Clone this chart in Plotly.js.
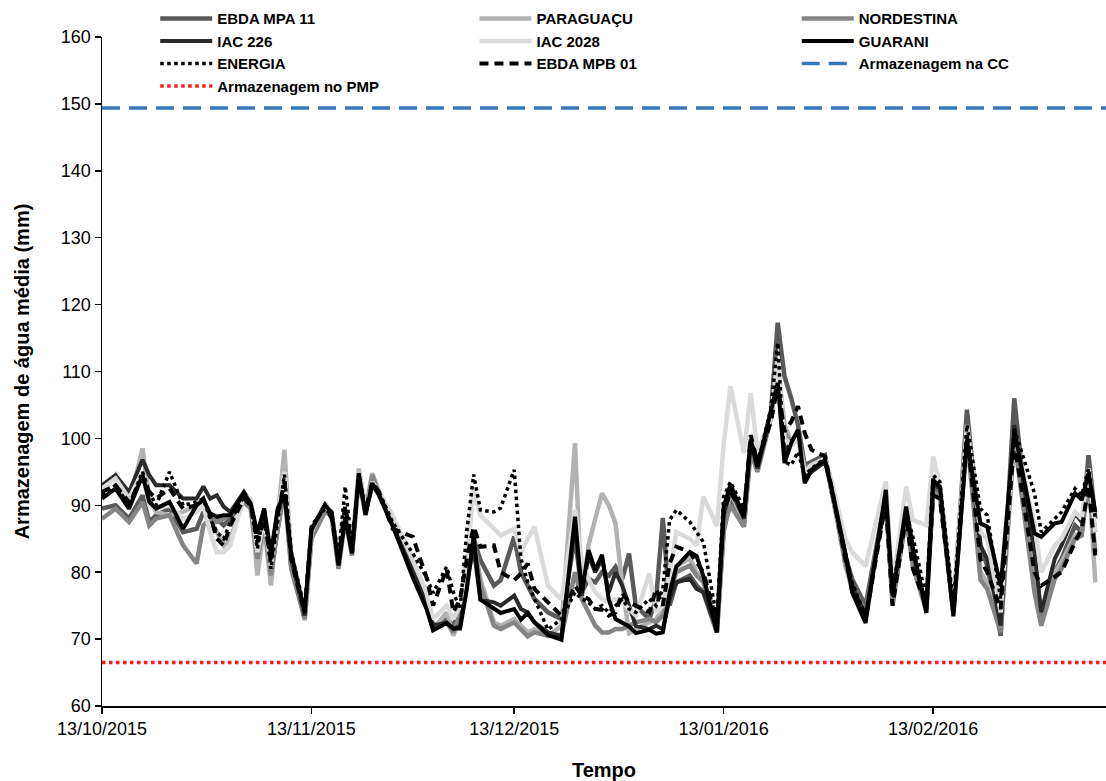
<!DOCTYPE html>
<html>
<head>
<meta charset="utf-8">
<script src="https://cdn.plot.ly/plotly-3.0.1.min.js"></script>
<style>html,body{margin:0;padding:0;background:#fff;}#chart{width:1106px;height:781px;}</style>
</head>
<body>
<div id="chart"></div>
<script>
const dates = ['2015-10-13','2015-10-15','2015-10-17','2015-10-19','2015-10-20','2015-10-21','2015-10-23','2015-10-25','2015-10-27','2015-10-28',
'2015-10-29','2015-10-30','2015-10-31','2015-11-01','2015-11-03','2015-11-04','2015-11-05','2015-11-06','2015-11-07','2015-11-08',
'2015-11-09','2015-11-10','2015-11-12','2015-11-13','2015-11-15','2015-11-16','2015-11-17','2015-11-18','2015-11-19','2015-11-20',
'2015-11-21','2015-11-22','2015-11-23','2015-11-25','2015-11-28','2015-11-30','2015-12-01','2015-12-03','2015-12-04','2015-12-05',
'2015-12-06','2015-12-07','2015-12-08','2015-12-10','2015-12-11','2015-12-13','2015-12-14','2015-12-15','2015-12-16','2015-12-18',
'2015-12-20','2015-12-22','2015-12-23','2015-12-24','2015-12-25','2015-12-26','2015-12-27','2015-12-28','2015-12-29','2015-12-30',
'2015-12-31','2016-01-02','2016-01-03','2016-01-04','2016-01-05','2016-01-06','2016-01-08','2016-01-09','2016-01-10','2016-01-12',
'2016-01-13','2016-01-14','2016-01-16','2016-01-17','2016-01-18','2016-01-20','2016-01-21','2016-01-22','2016-01-23','2016-01-24',
'2016-01-25','2016-01-26','2016-01-28','2016-01-29','2016-01-31','2016-02-01','2016-02-03','2016-02-06','2016-02-07','2016-02-09',
'2016-02-10','2016-02-12','2016-02-13','2016-02-14','2016-02-16','2016-02-18','2016-02-20','2016-02-21','2016-02-23','2016-02-25',
'2016-02-28','2016-02-29','2016-03-02','2016-03-03','2016-03-05','2016-03-06','2016-03-07','2016-03-08'];

const ebdaMpa11 = [89.5,90,88,91.5,87.5,88.5,89.5,86,86.5,89, 87.5,88,87,88,91,90,84,88.5,80,87, 93,81,73.5,86,89.5,88.5,81.5,88.5,83,94.5,
89,93.5,91.5,87.5,80.5,75.5,72,73,72,74.5, 79,85,81.8,78,78.8,85.3,80,78,76,74, 73,85.3,77,79,78.5,80,79.5,80.8,79,82.8,
75,73,76,88.1,75,78.5,79.5,78,77,71, 86,91,87,99,95.5,104,117.3,109.3,106,102, 96,96.5,97.5,92,82.5,79,75,91.5,76,88,
82,75,92.5,92,74,104.3,84,81,70.5,106, 78,73,80,82,87,86,97.5,88];

const paraguacu = [92,94.5,90,98.5,91,89,88.5,89,90,91, 88,86,84,85,91,90.5,79.5,87,78,88, 98.3,82,72.8,85.5,90,88,81,89,83.5,95.5,
89.5,94.8,92,88,81,76,71.5,74,70.5,73.5, 78,84.5,79,72.5,72,73,72,71,71.5,70.5, 72,99.3,76,84,88,91.8,90,87.3,78,70.9,
71.5,72.5,73,74.5,77,81,82,80,79,72, 87,92,87.5,99.5,96,103.5,111,102,99.5,100.5, 95.5,96,97,93,81,77.5,73.5,92,75.5,89,
81,74,93,92.5,73.5,101,80,78.5,72.5,101.5, 79,74,80,81.5,85.5,86,95,78.5];

const nordestina = [88,89.5,87.5,90.5,87,88,88.5,84,81.3,87, 88,87.5,88,88.5,90.5,89.5,82,87.5,79.5,86.5, 92,80.5,73,85,89,88.5,80.5,88,82.5,94,
88.5,94.5,91.5,87,80,75,71.5,72.5,71,73.5, 78.5,84.5,78,72,71.5,72.5,71.5,70.4,71,70.5, 70.5,80,76,74,72,71,71,71.5,71.5,72,
72.5,73,72.5,73.5,76.5,80,81,79.5,78.5,71, 86.5,90,86.8,98,95,103,110,101,99,100, 95.5,96,97,92,81.5,78,74,91,75,88.5,
80.9,74.5,92,91.5,74,100.5,78.9,77.5,71,100, 77,72,79,80.5,85,85.5,94,83];

const iac226 = [93,94.5,92,96.8,94.5,93,93,91,91,92.8, 91,91.5,89.8,89,92,90.5,85,89,82,89, 92,82,73.5,86.5,90,89,81.5,88.5,83,94.5,
88.8,93,91.6,87,80,75.5,72,72.5,71.5,72, 79,83.5,75.9,75.5,75,76.5,74.5,74,72.5,71, 70.5,87.5,76.5,82.5,80,82,77,80,78,75,
72,71.5,72,71.5,76,78.5,79,77.5,77,71.5, 88.5,92.5,88,99.5,95.5,103.5,110,98,99.5,101, 94,95,96.5,92.5,82.5,78,73.5,92,77,89,
83,74.5,93,92.5,74.5,101.5,84,82,72,102, 83,74,82,84,88.8,87.5,95,86];

const iac2028 = [92.5,94,91,95,90,89.5,90,88,89,90, 86,83,83,84,91.5,91,83,88,81,88, 95,83,74,86,90.5,88.5,82,89.5,83.5,95,
89,93.5,92,88.5,82,77,73,75,73,75, 82,92.3,88.5,86.5,85.5,86.5,83,85,86.8,78, 75.9,89.3,82,79,77,76,75.5,76,75.5,74.5,
73.5,79.8,74,75,80,86,85,84,91.3,86.9, 99,107.8,97.8,106.8,98,103,112,100,99,100, 95,96,97,93.5,85,83,80.9,93.6,78,92.8,
87.8,87,97.3,93,75,102,86,85,74,101, 87,80,84,85,89,88,95.5,86];

const guarani = [91,92.5,89.5,94.5,90.5,89.5,90.5,86.5,90,90.8, 88.8,88.3,88.5,88.5,91.8,90.3,85.8,89.5,82.8,89.5, 91.6,82.8,73.9,86.3,90.1,88.8,81,88.3,82.8,94.8,
88.6,93.3,91.6,87,79.2,74.6,71.3,72.4,71.6,71.6, 77.5,85.5,75.9,74.5,73.9,74.5,72.9,73.9,72.5,70.6, 69.9,88.3,76.9,83.3,80.3,82.6,75.9,73,72.5,71.9,
70.9,71.4,70.8,71,76.9,80.8,83,82.4,79.4,71, 89.8,93.1,88.3,99.8,95.8,103.8,108.3,96.3,99.3,101.3, 93.3,95.3,96.8,92.5,82.9,77,72.4,92.3,76.5,89.8,
83.8,73.9,93.8,92.8,73.4,99.8,87.3,86.8,77.9,101.3, 85.8,85.3,87.3,87.5,91.8,90.8,94.8,89];

const energia = [91.5,93,90,95,92,90,95,90,90.5,91, 88,86,85,87.5,91.5,90,83.5,89.5,80.5,88, 94.6,83,74.5,87,89.5,88.5,82.5,92.8,84,94.5,
89.5,93,92,87.5,82.8,79.3,76.9,80.8,77,74.5, 86.3,94.6,89.3,89,89.6,95.3,82,78.5,76,71.4, 73,77,76,75.5,74.5,75,74,75,76,74.5,
74,76,75,77.5,87.8,89.3,87.5,86,84.5,73, 91.3,93.5,89.5,100,96,104.5,114.3,96.5,96,98, 94.5,95.5,97,92,83,78.5,73.5,91,77.5,89,
85.3,76,94.5,93.5,75,102,89.5,88.5,76,101.5, 91.8,86,88,89,92.5,91.5,95.5,88];

const ebdaMpb01 = [92,93,90.5,94,92,91,92.5,89.5,90,91, 88.5,85,84,87,91,90,84.5,88,81.5,88.5, 93.5,82,74,86.5,90,88,82,90,83.5,94,
89,93.5,92,86.5,85.3,79.3,75,80.5,74,76, 82,86.8,83.8,84,80,78.8,79.8,81.3,77.5,75.5, 73.5,78,76.5,76,74.5,74.4,73.5,74,76.9,75.5,
75,74,77.5,75,81.3,83.8,83,81.5,80,72.5, 89,92,88.5,100.5,96.5,102.5,108,101,102.5,104.8, 100.8,98.3,97.3,92.5,82,78,73,90.5,75,88.5,
80.5,75,91.5,91,74,100.5,81.9,80,74.5,99.5, 80,78,79.4,80,84.5,86.5,93,82.5];

const refDates = ['2015-10-13','2016-03-09 14:00'];
const armazenagemCC = [149.4,149.4];
const armazenagemPMP = [66.5,66.5];

const tickDates = ['2015-10-13','2015-11-13','2015-12-13','2016-01-13','2016-02-13'];
const tickLabels = ['13/10/2015','13/11/2015','13/12/2015','13/01/2016','13/02/2016'];

const series = [
  {name:'EBDA MPA 11', y:ebdaMpa11, color:'#5a5a5a', width:4.5, dash:'solid', legend:'legend'},
  {name:'PARAGUAÇU', y:paraguacu, color:'#b2b2b2', width:4.5, dash:'solid', legend:'legend2'},
  {name:'NORDESTINA', y:nordestina, color:'#858585', width:4.5, dash:'solid', legend:'legend3'},
  {name:'IAC 226', y:iac226, color:'#2a2a2a', width:4, dash:'solid', legend:'legend'},
  {name:'IAC 2028', y:iac2028, color:'#dadada', width:4.5, dash:'solid', legend:'legend2'},
  {name:'GUARANI', y:guarani, color:'#000000', width:4, dash:'solid', legend:'legend3'},
  {name:'ENERGIA', y:energia, color:'#000000', width:3.5, dash:'dot', legend:'legend'},
  {name:'EBDA MPB 01', y:ebdaMpb01, color:'#000000', width:4, dash:'9px,6px', legend:'legend2'}
];

const traces = series.map(s => ({
  type:'scatter', mode:'lines', x:dates, y:s.y, name:s.name, legend:s.legend,
  line:{color:s.color, width:s.width, dash:s.dash}
}));
traces.push({type:'scatter', mode:'lines', x:refDates, y:armazenagemCC, name:'Armazenagem na CC', legend:'legend3',
  line:{color:'#3478bd', width:3.5, dash:'18px,9px'}});
traces.push({type:'scatter', mode:'lines', x:refDates, y:armazenagemPMP, name:'Armazenagem no PMP', legend:'legend',
  line:{color:'#ff1a1a', width:3.5, dash:'dot'}});

const legFont = {family:'Liberation Sans, Arial, sans-serif', size:15, color:'#000', weight:'bold'};
const legBase = {font:legFont, bgcolor:'rgba(0,0,0,0)', itemwidth:52, yanchor:'top', xanchor:'left', y:1.052, tracegroupgap:0, traceorder:'normal'};

const layout = {
  width:1106, height:781,
  margin:{l:102, r:0, t:37, b:75},
  paper_bgcolor:'#fff', plot_bgcolor:'#fff',
  showlegend:true,
  legend:Object.assign({}, legBase, {x:0.053}),
  legend2:Object.assign({}, legBase, {x:0.371}),
  legend3:Object.assign({}, legBase, {x:0.692}),
  xaxis:{
    type:'date', range:['2015-10-13','2016-03-09 14:00'],
    tickvals:tickDates, ticktext:tickLabels,
    showgrid:false, zeroline:false, showline:true, linecolor:'#000', linewidth:1.5,
    ticks:'outside', ticklen:6, tickwidth:1.5, tickcolor:'#000',
    tickfont:{family:'Liberation Sans, Arial, sans-serif', size:18, color:'#000'},
    title:{text:'Tempo', font:{family:'Liberation Sans, Arial, sans-serif', size:20, color:'#000', weight:'bold'}, standoff:25}
  },
  yaxis:{
    range:[60,160], dtick:10, tick0:60,
    showgrid:false, zeroline:false, showline:true, linecolor:'#000', linewidth:1.5,
    ticks:'outside', ticklen:6, tickwidth:1.5, tickcolor:'#000',
    tickfont:{family:'Liberation Sans, Arial, sans-serif', size:18, color:'#000'},
    title:{text:'Armazenagem de água média (mm)', font:{family:'Liberation Sans, Arial, sans-serif', size:20, color:'#000', weight:'bold'}, standoff:26}
  }
};

Plotly.newPlot('chart', traces, layout, {displayModeBar:false, staticPlot:true});
</script>
</body>
</html>
